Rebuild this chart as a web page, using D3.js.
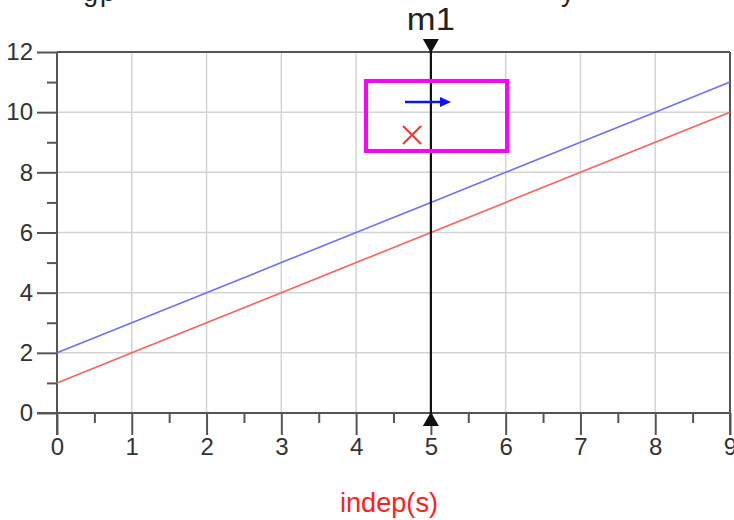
<!DOCTYPE html>
<html><head><meta charset="utf-8">
<script src="https://cdn.jsdelivr.net/npm/d3@7"></script>
<style>body{margin:0;background:#fff;}svg{display:block;font-family:Arial,"Liberation Sans",sans-serif;}</style>
</head><body><svg id="c" width="734" height="520"></svg>
<script>
const indep = [0, 1, 2, 3, 4, 5, 6, 7, 8, 9];
const seriesBlue = [2, 3, 4, 5, 6, 7, 8, 9, 10, 11];
const seriesRed = [1, 2, 3, 4, 5, 6, 7, 8, 9, 10];
const xTicks = [0, 1, 2, 3, 4, 5, 6, 7, 8, 9];
const yTicks = [0, 2, 4, 6, 8, 10, 12];
const markerX = 5;
const markerName = "m1";
const xLabel = "indep(s)";

const svg = d3.select("#c");
const x = d3.scaleLinear().domain([0, 9]).range([57, 730]);
const y = d3.scaleLinear().domain([0, 12]).range([413, 52]);
const axisCol = "#555";

// clipped title descenders at top
const tg = svg.append("g").attr("fill", "#222").attr("font-size", 27);
tg.append("text").attr("x", 83).attr("y", 1).text("g");
tg.append("text").attr("x", 100).attr("y", 1).text("p");
tg.append("text").attr("x", 561).attr("y", 1).text("y");

// grid
const grid = svg.append("g").attr("stroke", "#d4d4d4").attr("stroke-width", 1.5);
xTicks.filter(v => v > 0 && v < 9).forEach(v => {
  grid.append("line").attr("x1", x(v)).attr("x2", x(v)).attr("y1", y(12)).attr("y2", y(0));
});
yTicks.filter(v => v > 0 && v < 12).forEach(v => {
  grid.append("line").attr("x1", x(0)).attr("x2", x(9)).attr("y1", y(v)).attr("y2", y(v));
});

// axes
const yMajor = d3.axisLeft(y).tickValues(yTicks).tickSize(20).tickPadding(4).tickFormat(d3.format("d"));
const yMinor = d3.axisLeft(y).tickValues([1, 3, 5, 7, 9, 11]).tickSize(10).tickFormat("");
const xMajor = d3.axisBottom(x).tickValues(xTicks).tickSize(22).tickPadding(3).tickFormat(d3.format("d"));
const xMinor = d3.axisBottom(x).tickValues([0.5, 1.5, 2.5, 3.5, 4.5, 5.5, 6.5, 7.5, 8.5]).tickSize(10).tickFormat("");

function style(g) {
  g.attr("font-size", 24).attr("font-family", "Arial, 'Liberation Sans', sans-serif");
  g.select(".domain").remove();
  g.selectAll(".tick line").attr("stroke", axisCol).attr("stroke-width", 2);
  g.selectAll(".tick text").attr("fill", "#333").style("font-size", "24px");
}
svg.append("g").attr("transform", `translate(${x(0)},0)`).call(yMajor).call(style);
svg.append("g").attr("transform", `translate(${x(0)},0)`).call(yMinor).call(style);
svg.append("g").attr("transform", `translate(0,${y(0)})`).call(xMajor).call(style);
svg.append("g").attr("transform", `translate(0,${y(0)})`).call(xMinor).call(style);

// frame
const fr = svg.append("g").attr("stroke", axisCol).attr("stroke-width", 2).attr("fill", "none");
fr.append("line").attr("x1", x(0)).attr("x2", x(9)).attr("y1", y(12)).attr("y2", y(12));
fr.append("line").attr("x1", x(0) - 20).attr("x2", x(9)).attr("y1", y(0)).attr("y2", y(0));
fr.append("line").attr("x1", x(0)).attr("x2", x(0)).attr("y1", y(12)).attr("y2", y(0) + 22);
fr.append("line").attr("x1", x(9)).attr("x2", x(9)).attr("y1", y(12)).attr("y2", y(0) + 22);

// series
const line = d3.line().x((d, i) => x(indep[i])).y(d => y(d));
svg.append("path").datum(seriesBlue).attr("d", line).attr("fill", "none").attr("stroke", "#7070ff").attr("stroke-width", 1.6);
svg.append("path").datum(seriesRed).attr("d", line).attr("fill", "none").attr("stroke", "#ff6060").attr("stroke-width", 1.6);

// marker
const mx = x(markerX);
svg.append("line").attr("x1", mx).attr("x2", mx).attr("y1", y(12) - 10).attr("y2", y(0) + 10)
  .attr("stroke", "#111").attr("stroke-width", 2.2);
svg.append("path").attr("d", `M${mx - 8},${y(12) - 13}L${mx + 8},${y(12) - 13}L${mx},${y(12) + 1}Z`).attr("fill", "#111");
svg.append("path").attr("d", `M${mx - 8},${y(0) + 13}L${mx + 8},${y(0) + 13}L${mx},${y(0) - 1}Z`).attr("fill", "#111");
svg.append("text").attr("x", mx).attr("y", 30).attr("text-anchor", "middle").attr("font-size", 32)
  .attr("textLength", 48).attr("lengthAdjust", "spacingAndGlyphs").attr("fill", "#222").text(markerName);

// legend box
svg.append("rect").attr("x", 366).attr("y", 81).attr("width", 141).attr("height", 70)
  .attr("fill", "none").attr("stroke", "#ff00ff").attr("stroke-width", 4);
svg.append("line").attr("x1", 405).attr("x2", 442).attr("y1", 102).attr("y2", 102).attr("stroke", "#1010ff").attr("stroke-width", 2.5);
svg.append("path").attr("d", "M440,97L451,102L440,107Z").attr("fill", "#1010ff");
const cx = 412, cy = 135, s = 9;
svg.append("path").attr("d", `M${cx - s},${cy - s}L${cx + s},${cy + s}M${cx - s},${cy + s}L${cx + s},${cy - s}`)
  .attr("stroke", "#ff3030").attr("stroke-width", 2);

// x label
svg.append("text").attr("x", 389).attr("y", 512).attr("text-anchor", "middle").attr("font-size", 27)
  .attr("textLength", 98).attr("lengthAdjust", "spacingAndGlyphs").attr("fill", "#ff2020").text(xLabel);
</script></body></html>
